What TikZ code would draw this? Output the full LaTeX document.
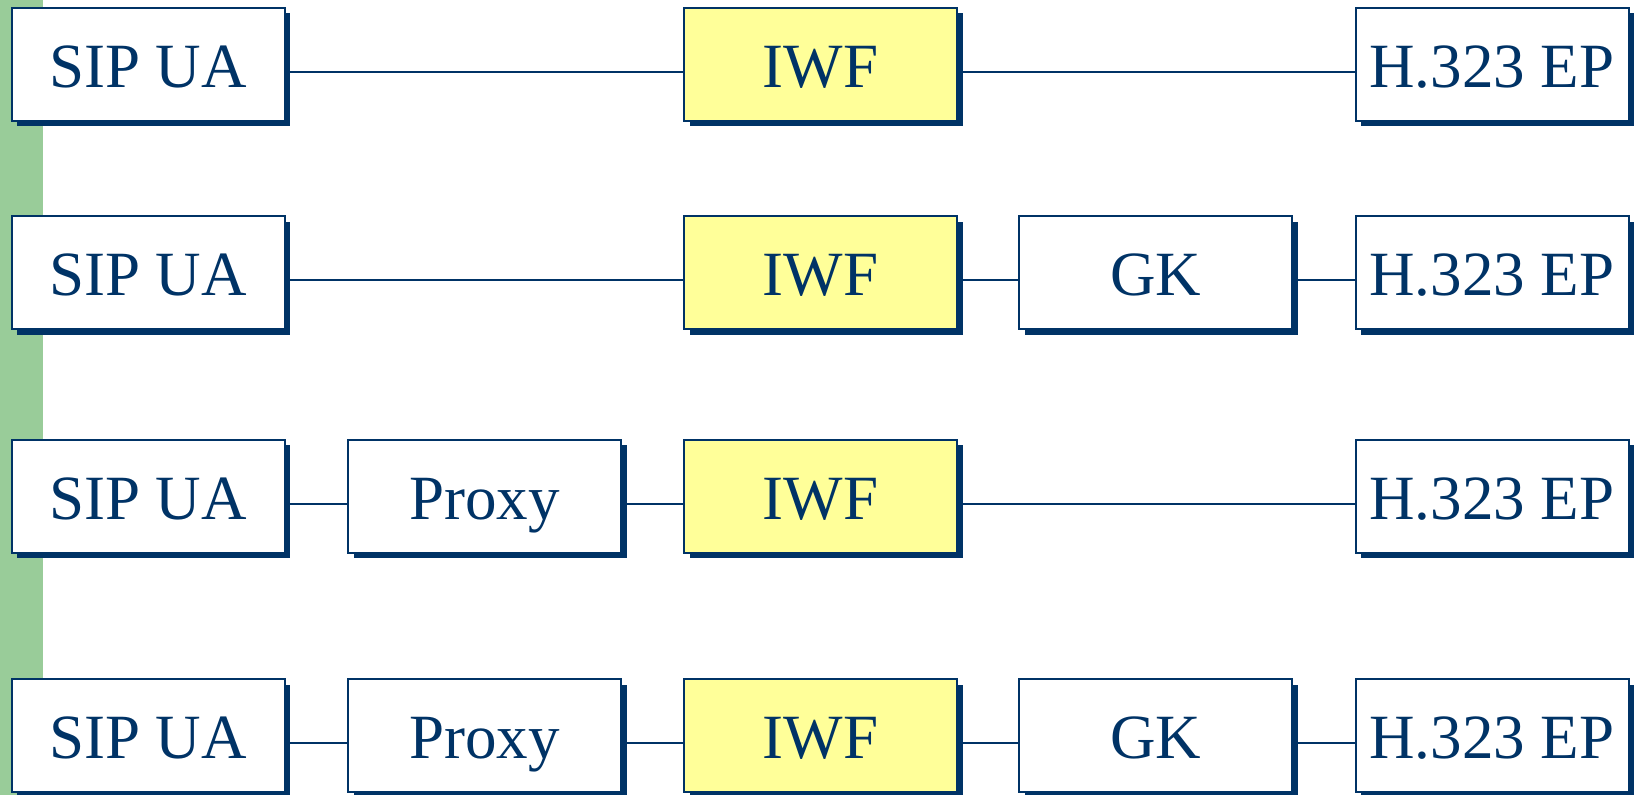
\documentclass[tikz,border=0pt]{standalone}
\usepackage{fontspec}
\setmainfont{Liberation Serif}
\usetikzlibrary{shadows}
\definecolor{navy}{RGB}{0,51,102}
\definecolor{boxyellow}{RGB}{255,255,153}
\definecolor{sidegreen}{RGB}{153,204,153}
\begin{document}
\begin{tikzpicture}[x=1pt,y=-1pt,
  entity/.style={draw=navy, line width=2pt, fill=white,
    minimum width=273pt, minimum height=113pt, inner sep=0pt,
    text height=46pt, text depth=0pt, text=navy,
    font=\fontsize{63}{63}\selectfont,
    drop shadow={shadow xshift=5.5pt, shadow yshift=-5.5pt, fill=navy, opacity=1, draw=none}},
  iwf/.style={entity, fill=boxyellow},
  link/.style={draw=navy, line width=2pt}
]
\useasboundingbox (0,0) rectangle (1634,795);
% green side bar
\fill[sidegreen] (0,0) rectangle (43,795);

% row 1
\node[entity] (s1) at (148,64) {SIP UA};
\node[iwf]    (i1) at (820.5,64) {IWF};
\node[entity] (h1) at (1492,64) {H.323 EP};
% row 2
\node[entity] (s2) at (148,272.5) {SIP UA};
\node[iwf]    (i2) at (820.5,272.5) {IWF};
\node[entity] (g2) at (1155.5,272.5) {GK};
\node[entity] (h2) at (1492,272.5) {H.323 EP};
% row 3
\node[entity] (s3) at (148,496) {SIP UA};
\node[entity] (p3) at (484.5,496) {Proxy};
\node[iwf]    (i3) at (820.5,496) {IWF};
\node[entity] (h3) at (1492,496) {H.323 EP};
% row 4
\node[entity] (s4) at (148,735.5) {SIP UA};
\node[entity] (p4) at (484.5,735.5) {Proxy};
\node[iwf]    (i4) at (820.5,735.5) {IWF};
\node[entity] (g4) at (1155.5,735.5) {GK};
\node[entity] (h4) at (1492,735.5) {H.323 EP};

% connectors, slightly below the box centres
\foreach \a/\b in {s1/i1, i1/h1,
                   s2/i2, i2/g2, g2/h2,
                   s3/p3, p3/i3, i3/h3,
                   s4/p4, p4/i4, i4/g4, g4/h4}
  \draw[link] ([yshift=-7.5pt]\a.east) -- ([yshift=-7.5pt]\b.west);
\end{tikzpicture}
\end{document}
